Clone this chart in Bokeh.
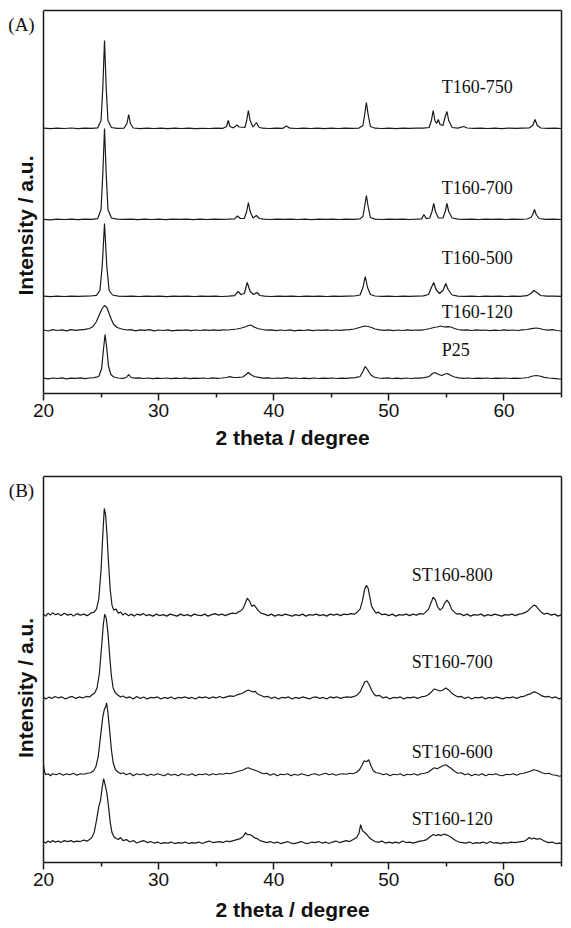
import math
from bokeh.plotting import figure
from bokeh.layouts import column
from bokeh.models import Range1d, FixedTicker, Label, LinearAxis, Span, Title
from bokeh.embed import file_html
from bokeh.resources import INLINE

# ---------------- data (2-theta in degree, intensity in a.u. above each pattern's baseline) -------------
T160_750 = [(20,0.3),(20.6,-0.2),(21.2,0.4),(21.8,0),(22.4,0.5),(23,-0.1),(23.6,0.3),(24.2,0.2),(24.7,0.6),(25.0,8),(25.15,40),(25.3,88),(25.45,40),(25.6,8),(25.9,1),(26.4,0.2),(27.0,0.4),(27.25,5),(27.4,14),(27.55,5),(27.8,0.5),(28.4,-0.2),(29,0.3),(29.6,0),(30.2,0.4),(30.8,-0.1),(31.4,0.3),(32,0),(32.6,0.4),(33.2,-0.2),(33.8,0.2),(34.4,0),(35,0.3),(35.6,0.2),(35.9,2),(36.05,8),(36.2,2),(36.5,0.6),(36.8,3.5),(37.0,1.5),(37.5,1),(37.65,8),(37.8,18),(37.95,8),(38.2,1.5),(38.5,6),(38.7,1.5),(39.0,0.3),(39.6,0),(40.2,0.3),(40.8,0.2),(41.1,2.5),(41.4,0.3),(42,0),(42.6,0.4),(43.2,0),(43.8,0.3),(44.4,-0.1),(45,0.3),(45.6,0),(46.2,0.4),(46.8,0.1),(47.4,0.4),(47.75,3),(47.9,14),(48.05,26),(48.2,14),(48.4,2),(48.8,0.3),(49.4,0),(50,0.3),(50.6,-0.1),(51.2,0.3),(51.8,0.1),(52.4,0.4),(53,0.3),(53.5,1),(53.7,8),(53.85,18),(54.0,8),(54.15,5),(54.3,9),(54.45,4),(54.7,3),(54.9,12),(55.05,17),(55.2,8),(55.5,1),(56,0.4),(56.5,2),(56.8,0.5),(57.4,0.2),(58,0.4),(58.6,0),(59.2,0.3),(59.8,-0.1),(60.4,0.3),(61,0.1),(61.6,0.4),(62.2,0.5),(62.5,3),(62.7,9),(62.9,3),(63.2,0.5),(63.8,0.2),(64.4,0.4),(65,0)]
T160_700 = [(20,0.2),(20.6,-0.3),(21.2,0.3),(21.8,0),(22.4,0.4),(23,-0.2),(23.6,0.3),(24.2,0.1),(24.7,0.8),(25.0,10),(25.15,45),(25.3,91),(25.45,45),(25.6,10),(25.9,1.5),(26.4,0.3),(27,0.1),(27.6,0.4),(28.2,-0.1),(28.8,0.3),(29.4,0),(30,0.4),(30.6,-0.2),(31.2,0.3),(31.8,0.1),(32.4,0.4),(33,-0.1),(33.6,0.3),(34.2,0),(34.8,0.4),(35.4,0.1),(36,0.3),(36.6,0.6),(36.85,3.5),(37.1,1),(37.45,1.2),(37.65,8),(37.8,17),(37.95,8),(38.2,1.5),(38.5,4),(38.75,1),(39.1,0.3),(39.7,0),(40.3,0.4),(40.9,0.1),(41.5,0.3),(42.1,0),(42.7,0.4),(43.3,-0.1),(43.9,0.3),(44.5,0.1),(45.1,0.4),(45.7,0),(46.3,0.3),(46.9,0.2),(47.5,0.6),(47.75,3),(47.9,13),(48.05,24),(48.2,13),(48.4,2),(48.8,0.4),(49.4,0),(50,0.3),(50.6,0.1),(51.2,0.4),(51.8,0),(52.4,0.3),(52.85,0.6),(53.05,5),(53.25,0.8),(53.55,1.5),(53.75,8),(53.9,16),(54.05,8),(54.3,1.5),(54.7,1.5),(54.9,8),(55.05,16),(55.2,8),(55.5,1.5),(56,0.3),(56.6,0.1),(57.2,0.4),(57.8,0),(58.4,0.3),(59,0.1),(59.6,0.4),(60.2,0),(60.8,0.3),(61.4,0.1),(62,0.5),(62.35,2),(62.5,5),(62.65,10),(62.8,5),(63.05,1),(63.6,0.2),(64.3,0.4),(65,0)]
T160_500 = [(20,0.3),(20.6,-0.2),(21.2,0.4),(21.8,0),(22.4,0.3),(23,0.1),(23.6,0.4),(24.1,0.5),(24.6,1.2),(24.9,6),(25.1,30),(25.3,73),(25.5,30),(25.7,6),(26.0,1.5),(26.5,0.4),(27.1,0.2),(27.7,0.4),(28.3,0),(28.9,0.3),(29.5,0.1),(30.1,0.4),(30.7,-0.1),(31.3,0.3),(31.9,0.1),(32.5,0.4),(33.1,0),(33.7,0.3),(34.3,0.1),(34.9,0.4),(35.5,0),(36.1,0.3),(36.6,0.8),(36.9,5),(37.15,2),(37.45,3),(37.7,14),(37.95,5),(38.25,2),(38.55,4),(38.8,1),(39.2,0.3),(39.8,0),(40.4,0.4),(41,0.1),(41.6,0.3),(42.2,0),(42.8,0.4),(43.4,0.1),(44,0.3),(44.6,0),(45.2,0.4),(45.8,0.1),(46.4,0.3),(47.0,0.5),(47.5,1.5),(47.75,9),(47.95,20),(48.15,9),(48.4,2),(48.8,0.5),(49.4,0.1),(50,0.4),(50.6,0),(51.2,0.3),(51.8,0.1),(52.4,0.4),(53,0.6),(53.45,2),(53.7,9),(53.9,14),(54.1,7),(54.4,3),(54.7,6),(54.95,13),(55.15,7),(55.5,1.5),(56,0.4),(56.6,0.1),(57.2,0.4),(57.8,0),(58.4,0.3),(59,0.1),(59.6,0.4),(60.2,0),(60.8,0.3),(61.4,0.2),(62,0.8),(62.35,3),(62.6,6),(62.85,4),(63.2,1),(63.7,0.3),(64.3,0.4),(65,0.1)]
T160_120 = [(20,0.5),(20.4,-0.5),(20.8,0.8),(21.2,0),(21.6,0.6),(22,-0.4),(22.4,0.9),(22.8,0.2),(23.2,0.7),(23.6,1.2),(24.0,2),(24.3,4),(24.6,9),(24.9,17),(25.1,22),(25.3,25),(25.5,23),(25.7,17),(25.9,11),(26.1,6),(26.4,3),(26.8,1.5),(27.2,0.5),(27.6,0.8),(28.0,-0.3),(28.4,0.6),(28.8,0.1),(29.2,0.8),(29.6,-0.4),(30,0.5),(30.4,0),(30.8,0.7),(31.2,-0.3),(31.6,0.4),(32,0.1),(32.4,0.6),(32.8,-0.2),(33.2,0.5),(33.6,0),(34,0.7),(34.4,0.2),(34.8,0.6),(35.2,0.1),(35.6,0.7),(36,0.5),(36.4,1),(36.8,1.5),(37.2,2.5),(37.5,3.5),(37.8,5),(38.0,5.5),(38.3,3.5),(38.6,2),(39.0,1),(39.4,0.3),(39.8,0.7),(40.2,-0.2),(40.6,0.5),(41,0),(41.4,0.6),(41.8,-0.3),(42.2,0.4),(42.6,0),(43,0.6),(43.4,-0.2),(43.8,0.5),(44.2,0.1),(44.6,0.6),(45,0),(45.4,0.5),(45.8,0.2),(46.2,0.7),(46.6,0.8),(47.0,1.5),(47.3,2.5),(47.6,3.5),(47.9,4.5),(48.2,4),(48.5,3),(48.8,1.5),(49.2,0.6),(49.6,0.2),(50,0.6),(50.4,-0.1),(50.8,0.5),(51.2,0),(51.6,0.6),(52,0.1),(52.4,0.5),(52.8,0.4),(53.2,1),(53.6,2),(53.9,3),(54.2,3.5),(54.5,4.5),(54.8,3.5),(55.1,3.8),(55.4,3.5),(55.7,2),(56.0,1),(56.4,0.4),(56.8,0.7),(57.2,0),(57.6,0.6),(58,0.1),(58.4,0.5),(58.8,-0.2),(59.2,0.4),(59.6,0),(60,0.6),(60.4,0.1),(60.8,0.5),(61.2,0),(61.6,0.6),(62,1),(62.4,1.8),(62.8,2.5),(63.1,2),(63.4,1),(63.8,0.4),(64.2,0.8),(64.6,0),(65,-0.5)]
P25 = [(20,0.3),(20.4,-0.4),(20.8,0.5),(21.2,0),(21.6,0.6),(22,-0.3),(22.4,0.4),(22.8,0.1),(23.2,0.6),(23.6,-0.2),(24,0.5),(24.4,0.8),(24.8,2),(25.05,10),(25.2,28),(25.35,44),(25.5,30),(25.65,12),(25.85,4),(26.1,1.5),(26.5,0.5),(26.9,0.2),(27.2,1),(27.4,4),(27.6,1),(27.9,0.3),(28.3,0.6),(28.7,0),(29.1,0.5),(29.5,-0.2),(29.9,0.4),(30.3,0),(30.7,0.5),(31.1,-0.1),(31.5,0.4),(31.9,0),(32.3,0.6),(32.7,-0.2),(33.1,0.4),(33.5,0.1),(33.9,0.5),(34.3,0),(34.7,0.6),(35.1,0.2),(35.5,0.5),(35.9,1),(36.2,1.8),(36.5,1),(36.9,1.2),(37.3,1.5),(37.6,4),(37.8,6),(38.0,4),(38.3,2),(38.7,1.2),(39.1,0.4),(39.5,0.6),(39.9,0),(40.3,0.5),(40.7,0.2),(41.1,0.8),(41.5,0.2),(41.9,0.5),(42.3,0),(42.7,0.4),(43.1,-0.1),(43.5,0.5),(43.9,0),(44.3,0.4),(44.7,0.1),(45.1,0.5),(45.5,0),(45.9,0.4),(46.3,0.2),(46.7,0.6),(47.1,0.8),(47.5,2),(47.75,7),(47.95,12),(48.15,9),(48.4,4),(48.7,1.5),(49.1,0.5),(49.5,0.2),(49.9,0.6),(50.3,0),(50.7,0.4),(51.1,-0.1),(51.5,0.5),(51.9,0),(52.3,0.4),(52.7,0.3),(53.1,0.8),(53.5,2),(53.8,5),(54.0,6),(54.3,4),(54.6,3),(54.9,4.5),(55.1,5),(55.4,3),(55.7,1.5),(56.1,0.6),(56.5,0.2),(56.9,0.5),(57.3,0),(57.7,0.4),(58.1,0.1),(58.5,0.5),(58.9,0),(59.3,0.4),(59.7,0.1),(60.1,0.5),(60.5,0),(60.9,0.4),(61.3,0.2),(61.7,0.5),(62.1,1),(62.5,2.5),(62.8,3),(63.1,2.5),(63.5,1.2),(63.9,0.5),(64.3,0.2),(64.7,-0.3),(65,-0.5)]

ST160_800 = [(20,1),(20.2,-1),(20.4,2),(20.6,0),(20.8,2.5),(21.0,0.5),(21.3,1.5),(21.5,-0.5),(21.8,2),(22.1,0),(22.4,1),(22.6,-1),(22.9,1.5),(23.2,0),(23.5,1),(23.8,-0.5),(24.1,2),(24.4,3),(24.6,6),(24.8,16),(25.0,45),(25.15,80),(25.28,107),(25.4,100),(25.52,80),(25.65,52),(25.8,25),(25.95,10),(26.1,5),(26.3,6),(26.5,2),(26.7,3),(26.9,0),(27.1,2),(27.4,-0.5),(27.6,1),(27.9,-1),(28.1,1),(28.4,0),(28.7,1.5),(28.9,-0.5),(29.2,0.5),(29.5,-1),(29.8,1),(30.1,-0.5),(30.4,0.5),(30.7,-1),(31.0,1),(31.3,0),(31.6,-1),(31.9,1),(32.2,-0.5),(32.5,0.5),(32.8,-1),(33.1,1),(33.4,0),(33.7,-0.5),(34.0,1),(34.3,-1),(34.6,0.5),(34.9,1.5),(35.2,0),(35.5,1),(35.8,-0.5),(36.1,1),(36.4,2),(36.7,1.5),(36.9,3),(37.1,4),(37.3,6),(37.5,11),(37.7,17),(37.9,14),(38.1,9),(38.3,10),(38.5,7),(38.7,4),(38.9,2),(39.2,1),(39.5,-0.5),(39.8,1),(40.1,-1),(40.4,0.5),(40.7,-0.5),(41.0,1),(41.3,0),(41.6,-1),(41.9,0.5),(42.2,-0.5),(42.5,1),(42.8,-1),(43.1,0.5),(43.4,0),(43.7,1),(44.0,-0.5),(44.3,0.5),(44.6,-1),(44.9,1),(45.2,0),(45.5,1),(45.8,-0.5),(46.1,1),(46.4,0.5),(46.7,1.5),(47.0,1),(47.25,3),(47.5,6),(47.7,14),(47.9,26),(48.05,30),(48.2,27),(48.35,18),(48.5,9),(48.7,5),(48.9,2),(49.1,3),(49.4,0.5),(49.7,1),(50.0,-0.5),(50.3,1),(50.6,-1),(50.9,0.5),(51.2,0),(51.5,1),(51.8,-0.5),(52.1,1),(52.4,0),(52.7,1.5),(53.0,1),(53.2,3),(53.45,6),(53.65,12),(53.85,18),(54.05,15),(54.25,8),(54.45,5),(54.65,7),(54.85,12),(55.05,15),(55.25,12),(55.45,6),(55.7,3),(55.9,1),(56.2,1.5),(56.5,-0.5),(56.8,1),(57.1,-1),(57.4,0.5),(57.7,0),(58.0,1),(58.3,-1),(58.6,0.5),(58.9,-0.5),(59.2,1),(59.5,0),(59.8,-1),(60.1,0.5),(60.4,0),(60.7,1),(61.0,-0.5),(61.3,1),(61.6,1.5),(61.9,3),(62.15,5),(62.4,8),(62.6,10),(62.8,9),(63.0,6),(63.25,3),(63.5,1),(63.8,2),(64.1,0),(64.4,1),(64.7,-1),(65,0.5)]
ST160_700 = [(20,1),(20.2,-1),(20.5,1),(20.7,-0.5),(21.0,1.5),(21.3,0),(21.6,1),(21.9,-1),(22.2,0.5),(22.5,1.5),(22.8,-0.5),(23.1,1),(23.4,0),(23.7,1.5),(24.0,1),(24.2,3),(24.45,5),(24.65,10),(24.85,24),(25.05,52),(25.2,74),(25.32,84),(25.45,80),(25.6,65),(25.75,42),(25.9,22),(26.05,10),(26.25,5),(26.45,3),(26.7,1),(26.9,2),(27.2,0),(27.5,1),(27.8,-1),(28.1,1.5),(28.4,-0.5),(28.7,1),(29.0,-1),(29.3,0.5),(29.6,0),(29.9,1),(30.2,-1),(30.5,0.5),(30.8,-0.5),(31.1,1),(31.4,-1),(31.7,0.5),(32.0,0),(32.3,1),(32.6,-0.5),(32.9,0.5),(33.2,-1),(33.5,1),(33.8,0),(34.1,1),(34.4,-0.5),(34.7,1),(35.0,0),(35.3,1.5),(35.6,0),(35.9,1),(36.2,2),(36.5,1.5),(36.8,3),(37.1,4),(37.4,5.5),(37.6,7),(37.8,8),(38.0,7),(38.2,6),(38.4,6.5),(38.6,4),(38.9,2.5),(39.2,1),(39.5,1.5),(39.8,-0.5),(40.1,1),(40.4,-1),(40.7,0.5),(41.0,0),(41.3,1),(41.6,-1),(41.9,0.5),(42.2,-0.5),(42.5,1),(42.8,0),(43.1,-1),(43.4,0.5),(43.7,1),(44.0,-0.5),(44.3,0.5),(44.6,-1),(44.9,1),(45.2,0),(45.5,1),(45.8,-0.5),(46.1,0.5),(46.4,1),(46.7,0.5),(47.0,1.5),(47.25,3),(47.5,6),(47.7,11),(47.9,16),(48.1,17),(48.3,13),(48.5,8),(48.7,4),(48.9,2),(49.2,2.5),(49.5,0),(49.8,1),(50.1,-1),(50.4,0.5),(50.7,0),(51.0,1),(51.3,-1),(51.6,0.5),(51.9,0),(52.2,1),(52.5,-0.5),(52.8,1),(53.1,1.5),(53.4,3),(53.7,6),(53.95,9),(54.2,8),(54.45,7),(54.7,8),(54.95,10),(55.2,8),(55.45,5),(55.7,3),(56.0,1),(56.3,1.5),(56.6,-0.5),(56.9,1),(57.2,-1),(57.5,0.5),(57.8,0),(58.1,1),(58.4,-1),(58.7,0.5),(59.0,-0.5),(59.3,1),(59.6,0),(59.9,-1),(60.2,0.5),(60.5,0),(60.8,1),(61.1,-0.5),(61.4,1),(61.7,1.5),(62.0,3),(62.3,4),(62.55,6),(62.8,5.5),(63.05,4),(63.3,2),(63.6,1),(63.9,1.5),(64.2,0),(64.5,1),(64.8,-1),(65,0)]
ST160_600 = [(20,10),(20.08,3),(20.2,0),(20.4,1),(20.6,-1),(20.8,1),(21.1,0),(21.4,1.5),(21.7,-0.5),(22.0,1),(22.3,0),(22.6,1.5),(22.9,-0.5),(23.2,1),(23.5,0.5),(23.8,1.5),(24.1,2),(24.35,4),(24.55,8),(24.75,18),(24.95,38),(25.15,58),(25.3,66),(25.4,68),(25.48,72),(25.6,62),(25.75,44),(25.9,25),(26.05,12),(26.25,5),(26.45,3),(26.7,1),(26.9,2),(27.2,0),(27.5,1.5),(27.8,-1),(28.1,1),(28.4,0),(28.7,1),(29.0,-1),(29.3,0.5),(29.6,-0.5),(29.9,1),(30.2,0),(30.5,-1),(30.8,1),(31.1,-0.5),(31.4,0.5),(31.7,-1),(32.0,1),(32.3,0),(32.6,-0.5),(32.9,1),(33.2,-1),(33.5,0.5),(33.8,0),(34.1,1),(34.4,-0.5),(34.7,1),(35.0,0),(35.3,1),(35.6,0.5),(35.9,1.5),(36.2,1),(36.5,2),(36.8,3),(37.1,4),(37.4,5),(37.6,6.5),(37.8,7),(38.0,6),(38.25,5),(38.5,4),(38.8,2.5),(39.1,1),(39.4,1.5),(39.7,-0.5),(40.0,1),(40.3,-1),(40.6,0.5),(40.9,0),(41.2,1),(41.5,-1),(41.8,0.5),(42.1,-0.5),(42.4,1),(42.7,0),(43.0,-1),(43.3,0.5),(43.6,1),(43.9,-0.5),(44.2,0.5),(44.5,1.5),(44.8,0),(45.1,1),(45.4,-0.5),(45.7,0.5),(46.0,1),(46.3,0.5),(46.6,1.5),(46.9,1),(47.2,2.5),(47.45,5),(47.65,9),(47.85,14),(48.05,13),(48.25,15),(48.45,9),(48.65,4),(48.9,2),(49.2,1.5),(49.5,0),(49.8,1),(50.1,-1),(50.4,0.5),(50.7,0),(51.0,1),(51.3,-1),(51.6,0.5),(51.9,0),(52.2,1),(52.5,-0.5),(52.8,1),(53.1,1.5),(53.4,2.5),(53.7,5),(53.95,7),(54.2,6),(54.45,7.5),(54.7,9),(54.95,10),(55.2,8),(55.45,6),(55.7,3.5),(56.0,1.5),(56.3,2),(56.6,0),(56.9,1),(57.2,-1),(57.5,0.5),(57.8,-0.5),(58.1,1),(58.4,-1),(58.7,0.5),(59.0,0),(59.3,1),(59.6,-0.5),(59.9,-1),(60.2,0.5),(60.5,0),(60.8,1),(61.1,-0.5),(61.4,1),(61.7,1.5),(62.0,2.5),(62.3,3.5),(62.55,5),(62.8,4.5),(63.05,3.5),(63.3,2),(63.6,1),(63.9,1.5),(64.2,0),(64.5,-0.5),(64.8,-1.5),(65,-1)]
ST160_120 = [(20,1),(20.2,-0.5),(20.4,1.5),(20.6,0),(20.8,2),(21.0,0.5),(21.3,1.5),(21.5,0),(21.8,2),(22.1,1),(22.4,2),(22.6,0.5),(22.9,1.5),(23.2,1),(23.5,2.5),(23.8,1.5),(24.0,3),(24.2,5),(24.4,10),(24.6,22),(24.8,36),(24.95,42),(25.1,55),(25.22,64),(25.35,58),(25.5,50),(25.65,36),(25.8,20),(25.95,10),(26.1,6),(26.3,4),(26.5,3),(26.7,5),(26.9,2),(27.2,3),(27.5,0.5),(27.8,2),(28.1,-0.5),(28.4,1),(28.7,2),(29.0,0),(29.3,1),(29.6,-0.5),(29.9,0.5),(30.2,-1),(30.5,0),(30.8,-0.5),(31.1,0.5),(31.4,-1),(31.7,0),(32.0,-0.5),(32.3,0.5),(32.6,-1),(32.9,0),(33.2,-0.5),(33.5,0.5),(33.8,-1),(34.1,0.5),(34.4,1.5),(34.7,0),(35.0,0.5),(35.3,1),(35.6,0),(35.9,1.5),(36.2,1),(36.5,2),(36.8,3),(37.1,4),(37.35,6),(37.55,10),(37.7,8),(37.9,8),(38.1,7),(38.3,5),(38.55,4),(38.8,2),(39.1,1),(39.4,0),(39.7,1),(40.0,-0.5),(40.3,0.5),(40.6,-1),(40.9,0),(41.2,1),(41.5,-0.5),(41.8,-1),(42.1,0),(42.4,1),(42.7,-0.5),(43.0,-1),(43.3,0.5),(43.6,0),(43.9,1),(44.2,-0.5),(44.5,0.5),(44.8,-1),(45.1,0.5),(45.4,1.5),(45.7,0),(46.0,1),(46.3,2),(46.6,1),(46.9,3),(47.2,5),(47.4,9),(47.55,18),(47.7,12),(47.9,10),(48.1,8),(48.3,5),(48.5,3),(48.8,1),(49.1,0.5),(49.4,1.5),(49.7,-0.5),(50.0,0.5),(50.3,-0.5),(50.6,0.5),(50.9,-0.5),(51.2,1.5),(51.5,0),(51.8,0.5),(52.1,-0.5),(52.4,0.5),(52.7,1.5),(53.0,2),(53.3,3),(53.6,6),(53.85,8),(54.05,7),(54.3,8),(54.55,7),(54.8,8.5),(55.05,7.5),(55.3,6),(55.55,4),(55.8,2),(56.1,0.5),(56.4,0),(56.7,-0.5),(57.0,0.5),(57.3,-1),(57.6,0),(57.9,-0.5),(58.2,0.5),(58.5,-1),(58.8,1),(59.1,-0.5),(59.4,0),(59.7,-1),(60.0,0),(60.3,-0.5),(60.6,0.5),(60.9,0),(61.2,0.5),(61.5,1),(61.8,1.5),(62.0,3),(62.2,5),(62.4,3.5),(62.6,4.5),(62.85,3.5),(63.1,4),(63.35,2.5),(63.6,1),(63.9,0),(64.2,0.5),(64.5,-1),(64.8,-0.5),(65,-1)]

SERIES_A = ["T160-750", "T160-700", "T160-500", "T160-120", "P25"]
DATA_A = [T160_750, T160_700, T160_500, T160_120, P25]
OFFSET_A = [265, 174, 97, 63, 15]
SERIES_B = ["ST160-800", "ST160-700", "ST160-600", "ST160-120"]
DATA_B = [ST160_800, ST160_700, ST160_600, ST160_120]
OFFSET_B = [248, 165, 88, 20]
X_MIN, X_MAX = 20, 65
MAJOR_TICKS = [20, 30, 40, 50, 60]
MINOR_TICKS = [25, 35, 45, 55, 65]

# ---------------- layout / style ----------------
SERIF = "Liberation Serif"
SANS = "Liberation Sans"
LINE = "#1a1a1a"
WIDTH = 565
LEFT_PAD = 43           # px between canvas edge and the box's left side
RIGHT_PAD = 4
BOX_W = WIDTH - LEFT_PAD - RIGHT_PAD
X_START = X_MIN - LEFT_PAD * (X_MAX - X_MIN) / BOX_W   # frame extends left to hold the side texts


def border_axis(p, side):
    a = LinearAxis(ticker=FixedTicker(ticks=[]), major_label_text_font_size="0px",
                   major_label_standoff=0, axis_line_color=LINE, axis_line_width=1.5,
                   major_tick_line_color=None, minor_tick_line_color=None)
    if side == "above":
        a.bounds = (X_MIN, X_MAX)
    p.add_layout(a, side)


def make_panel(letter, names, data, offsets, ymax, height, top, bottom, label_pos, ylab_y, title_standoff):
    p = figure(width=WIDTH, height=height, output_backend="svg", toolbar_location=None,
               x_range=Range1d(X_START, X_MAX), y_range=Range1d(0, ymax),
               min_border_left=0, min_border_right=RIGHT_PAD, min_border_top=top, min_border_bottom=bottom)
    p.grid.visible = False
    p.outline_line_color = None
    p.yaxis.visible = False
    ax = p.xaxis[0]
    ax.bounds = (X_MIN, X_MAX)
    ax.ticker = FixedTicker(ticks=MAJOR_TICKS, minor_ticks=MINOR_TICKS)
    ax.axis_line_color = LINE
    ax.axis_line_width = 1.5
    ax.major_tick_line_color = LINE
    ax.major_tick_line_width = 1.5
    ax.minor_tick_line_color = LINE
    ax.minor_tick_line_width = 1.5
    ax.major_tick_out = 7
    ax.major_tick_in = 0
    ax.minor_tick_out = 4
    ax.minor_tick_in = 0
    ax.major_label_text_font = SANS
    ax.major_label_text_font_size = "19px"
    ax.major_label_text_color = "#111"
    ax.major_label_standoff = 3

    # axis title centred under the box (the frame is wider than the box)
    t = Title(text="2 theta / degree", align="left", offset=215, standoff=title_standoff,
              text_font=SANS, text_font_style="bold", text_font_size="21px", text_color="#111")
    p.add_layout(t, "below")

    border_axis(p, "above")
    border_axis(p, "right")
    p.add_layout(Span(location=X_MIN, dimension="height", line_color=LINE, line_width=1.5))

    for name, pts, off, (lx, ly) in zip(names, data, offsets, label_pos):
        xs = [a for a, b in pts]
        ys = [b + off for a, b in pts]
        p.line(xs, ys, line_color=LINE, line_width=1.2)
        p.add_layout(Label(x=lx, y=ly, text=name, text_font=SERIF, text_font_size="18px",
                           text_color="#111", text_align="left", text_baseline="middle"))

    p.add_layout(Label(x=X_MIN, y=ymax, x_offset=-22, y_offset=-3,
                       text=letter, text_font=SERIF, text_font_size="19px", text_color="#111",
                       text_align="center", text_baseline="top"))
    p.add_layout(Label(x=X_MIN, y=ylab_y, x_offset=-18,
                       text="Intensity / a.u.", angle=math.pi / 2,
                       text_font=SANS, text_font_style="bold", text_font_size="21px",
                       text_color="#111", text_align="center", text_baseline="middle"))
    return p

pA = make_panel("(A)", SERIES_A, DATA_A, OFFSET_A, 383, 470, 10, 77,
                [(54.6, 307), (54.6, 206), (54.6, 136), (54.6, 82), (54.6, 44)], 168, 9)
pB = make_panel("(B)", SERIES_B, DATA_B, OFFSET_B, 387, 458, 6, 65,
                [(52.0, 288), (52.0, 201), (52.0, 111), (52.0, 44)], 175, 15)

layout = column(pA, pB, spacing=0)
open("out.html", "w").write(file_html(layout, INLINE))
